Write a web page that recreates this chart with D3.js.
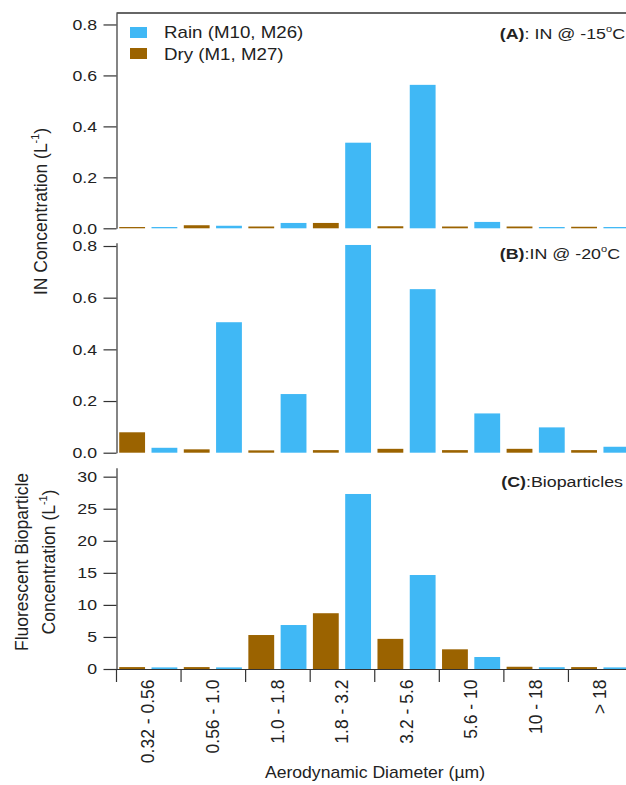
<!DOCTYPE html>
<html>
<head>
<meta charset="utf-8">
<script src="https://cdn.jsdelivr.net/npm/d3@7"></script>
<style>
  body { margin: 0; background: #fff; }
  svg { display: block; font-family: "Liberation Sans", Arial, sans-serif; }
  text { fill: #222; }
</style>
</head>
<body>
<script>
// Size bins (aerodynamic diameter, um)
let categories = ['0.32 - 0.56', '0.56 - 1.0', '1.0 - 1.8', '1.8 - 3.2', '3.2 - 5.6', '5.6 - 10', '10 - 18', '> 18'];

// Series names and colours
let seriesNames = ['Dry (M1, M27)', 'Rain (M10, M26)'];
let seriesColors = ['#9b6300', '#40b8f5'];

// (A) IN @ -15C, L^-1
let dryA = [0.005, 0.012, 0.007, 0.021, 0.008, 0.007, 0.007, 0.006];
let rainA = [0.005, 0.010, 0.021, 0.336, 0.563, 0.025, 0.005, 0.005];

// (B) IN @ -20C, L^-1
let dryB = [0.079, 0.013, 0.009, 0.010, 0.015, 0.010, 0.015, 0.010];
let rainB = [0.019, 0.505, 0.227, 0.804, 0.633, 0.152, 0.098, 0.023];

// (C) fluorescent bioparticles, L^-1
let dryC = [0.30, 0.30, 5.3, 8.7, 4.7, 3.07, 0.35, 0.30];
let rainC = [0.25, 0.25, 6.86, 27.3, 14.66, 1.87, 0.28, 0.25];

// Tick labels
let ticksIN = [0, 0.2, 0.4, 0.6, 0.8];
let ticksBio = [0, 5, 10, 15, 20, 25, 30];

let width = 626;
let height = 785;
let axisX = 116.5;
let tickLen = 13;

let svg = d3.select('body').append('svg')
    .attr('width', width)
    .attr('height', height);

// category bands and the dry/rain slots inside each one
let xScale = d3.scaleBand()
    .domain(categories)
    .range([116, 632.5]);

let subScale = d3.scaleBand()
    .domain([0, 1])
    .range([0, xScale.bandwidth()])
    .paddingInner(0.2)
    .paddingOuter(0.1);

// text that is a little wider along the screen x, like the original
let addText = (x, y, size, anchor, sx, rotate) => {
    let g = svg.append('g')
        .attr('transform', `translate(${x},${y}) scale(${sx},1)` + (rotate ? ` rotate(${rotate})` : ''));
    return g.append('text')
        .attr('text-anchor', anchor)
        .style('font-size', size + 'px');
};

let panels = [
    { top: 13, bottom: 228.3, max: 0.845, series: [dryA, rainA], ticks: ticksIN, fmt: d3.format('.1f') },
    { top: 242.7, bottom: 452.7, max: 0.8128, series: [dryB, rainB], ticks: ticksIN, fmt: d3.format('.1f') },
    { top: 467.7, bottom: 669, max: 31.4, series: [dryC, rainC], ticks: ticksBio, fmt: d3.format('d') }
];

let drawPanel = (p) => {
    let yScale = d3.scaleLinear()
        .domain([0, p.max])
        .range([p.bottom, p.top]);

    p.series.forEach((values, s) => {
        svg.append('g')
            .selectAll('rect')
            .data(values)
            .enter()
            .append('rect')
            .attr('x', (d, i) => xScale(categories[i]) + subScale(s))
            .attr('width', subScale.bandwidth())
            .attr('y', (d) => yScale(d))
            .attr('height', (d) => yScale(0) - yScale(d))
            .attr('fill', seriesColors[s]);
    });

    let yAxis = d3.axisLeft(yScale)
        .tickValues(p.ticks)
        .tickFormat(p.fmt)
        .tickSize(tickLen)
        .tickPadding(6.5)
        .tickSizeOuter(0);

    let g = svg.append('g')
        .attr('transform', `translate(${axisX}, 0)`)
        .call(yAxis);
    g.selectAll('path, line').attr('stroke', '#333').attr('stroke-width', 1.2);
    g.selectAll('text')
        .attr('x', -(tickLen + 6.5) / 1.18)
        .attr('transform', 'scale(1.18,1)')
        .style('font-size', '15px')
        .style('font-family', '"Liberation Sans", Arial, sans-serif')
        .attr('fill', '#222');
};

let drawBottomAxis = () => {
    let y0 = 669;

    // boundary ticks between the size bins
    let edgeScale = d3.scaleLinear()
        .domain([0, categories.length])
        .range(xScale.range());
    let edgeAxis = d3.axisBottom(edgeScale)
        .tickValues(d3.range(0, categories.length + 1))
        .tickFormat('')
        .tickSize(tickLen)
        .tickSizeOuter(0);
    let ge = svg.append('g')
        .attr('transform', `translate(0, ${y0})`)
        .call(edgeAxis);
    ge.selectAll('path, line').attr('stroke', '#333').attr('stroke-width', 1.2);

    // rotated bin labels
    let labelAxis = d3.axisBottom(xScale).tickSize(0);
    let gl = svg.append('g')
        .attr('transform', `translate(0, ${y0})`)
        .call(labelAxis);
    gl.select('.domain').remove();
    gl.selectAll('text')
        .attr('transform', 'rotate(-90)')
        .attr('x', -10.5)
        .attr('y', 0)
        .attr('dy', '0.35em')
        .attr('text-anchor', 'end')
        .style('font-size', '17.5px')
        .style('font-family', '"Liberation Sans", Arial, sans-serif')
        .attr('fill', '#222');
};

let drawFrame = () => {
    svg.append('line')
        .attr('x1', axisX).attr('x2', width)
        .attr('y1', 13).attr('y2', 13)
        .attr('stroke', '#333')
        .attr('stroke-width', 1.3);
};

let drawLegend = () => {
    // rain listed first, then dry
    [1, 0].forEach((s, row) => {
        svg.append('rect')
            .attr('x', 130)
            .attr('y', 27 + row * 21)
            .attr('width', 17)
            .attr('height', 11)
            .attr('fill', seriesColors[s]);
        addText(164, 38 + row * 21.5, 16, 'start', 1.17, 0).text(seriesNames[s]);
    });
};

let superscript = (t, str, size) => {
    t.append('tspan').attr('dy', -size * 0.45).style('font-size', (size * 0.62) + 'px').text(str);
};

let drawLabels = () => {
    // panel tags
    let tagA = addText(625, 39, 15.5, 'end', 1.15, 0);
    tagA.append('tspan').style('font-weight', 'bold').text('(A)');
    tagA.append('tspan').text(': IN @ -15');
    superscript(tagA, 'o', 15.5);
    tagA.append('tspan').attr('dy', 15.5 * 0.45).text('C');

    let tagB = addText(620, 259, 15.5, 'end', 1.15, 0);
    tagB.append('tspan').style('font-weight', 'bold').text('(B)');
    tagB.append('tspan').text(':IN @ -20');
    superscript(tagB, 'o', 15.5);
    tagB.append('tspan').attr('dy', 15.5 * 0.45).text('C');

    let tagC = addText(623, 487, 15.5, 'end', 1.15, 0);
    tagC.append('tspan').style('font-weight', 'bold').text('(C)');
    tagC.append('tspan').text(':Bioparticles');

    // y titles
    let yt1 = addText(47, 211.5, 17.5, 'middle', 1, -90);
    yt1.append('tspan').text('IN Concentration (L');
    superscript(yt1, '-1', 17.5);
    yt1.append('tspan').attr('dy', 17.5 * 0.45).text(')');

    addText(28, 562, 17.5, 'middle', 1, -90).text('Fluorescent Bioparticle');
    let yt2 = addText(55, 562, 17.5, 'middle', 1, -90);
    yt2.append('tspan').text('Concentration (L');
    superscript(yt2, '-1', 17.5);
    yt2.append('tspan').attr('dy', 17.5 * 0.45).text(')');

    // x title
    addText(375, 778, 16, 'middle', 1.1, 0).text('Aerodynamic Diameter (\u00b5m)');
};

panels.forEach(drawPanel);
drawBottomAxis();
drawFrame();
drawLegend();
drawLabels();
</script>
</body>
</html>
